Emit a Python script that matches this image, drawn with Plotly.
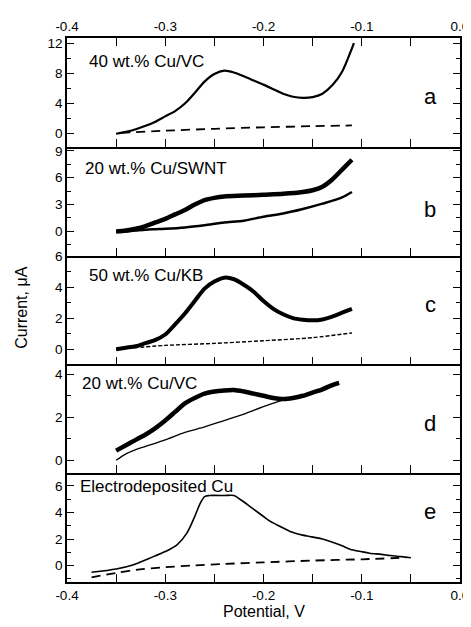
import plotly.graph_objects as go
from plotly.subplots import make_subplots

# ---- data ----
a_x = [-0.35, -0.34, -0.33, -0.32, -0.31, -0.30, -0.29, -0.28, -0.27, -0.26, -0.25, -0.24, -0.23,
       -0.22, -0.21, -0.20, -0.19, -0.18, -0.17, -0.16, -0.15, -0.14, -0.13, -0.12, -0.11, -0.108]
a_y = [0.0, 0.25, 0.6, 1.05, 1.6, 2.3, 3.0, 4.0, 5.4, 6.9, 7.9, 8.35, 8.1,
       7.6, 7.05, 6.5, 5.9, 5.3, 4.9, 4.75, 4.85, 5.3, 6.4, 8.2, 11.3, 12.0]
a_dx = [-0.345, -0.30, -0.25, -0.20, -0.15, -0.11]
a_dy = [0.1, 0.4, 0.65, 0.85, 1.0, 1.1]

b_x = [-0.35, -0.34, -0.33, -0.32, -0.31, -0.30, -0.29, -0.28, -0.27, -0.26, -0.25, -0.24,
       -0.22, -0.20, -0.18, -0.16, -0.15, -0.14, -0.13, -0.12, -0.11]
b_y = [0.0, 0.1, 0.3, 0.6, 1.0, 1.4, 1.9, 2.4, 3.0, 3.5, 3.75, 3.9,
       4.0, 4.1, 4.2, 4.4, 4.6, 5.0, 5.8, 6.9, 8.0]
b_lx = [-0.35, -0.34, -0.33, -0.32, -0.31, -0.30, -0.28, -0.26, -0.24, -0.22, -0.20, -0.18,
        -0.16, -0.14, -0.12, -0.11]
b_ly = [0.0, 0.0, 0.1, 0.2, 0.25, 0.3, 0.45, 0.7, 1.0, 1.2, 1.65, 2.0,
        2.5, 3.1, 3.8, 4.4]

c_x = [-0.35, -0.34, -0.33, -0.32, -0.31, -0.30, -0.29, -0.28, -0.27, -0.26, -0.25, -0.24, -0.23,
       -0.22, -0.21, -0.20, -0.19, -0.18, -0.17, -0.16, -0.15, -0.14, -0.13, -0.12, -0.11]
c_y = [0.0, 0.1, 0.2, 0.4, 0.6, 0.95, 1.6, 2.3, 3.1, 3.9, 4.35, 4.6, 4.5,
       4.15, 3.7, 3.1, 2.6, 2.25, 2.0, 1.9, 1.86, 1.92, 2.1, 2.35, 2.6]
c_dx = [-0.35, -0.30, -0.25, -0.20, -0.15, -0.11]
c_dy = [0.0, 0.25, 0.38, 0.55, 0.75, 1.05]

d_x = [-0.35, -0.34, -0.33, -0.32, -0.31, -0.30, -0.29, -0.28, -0.27, -0.26, -0.25, -0.24,
       -0.23, -0.22, -0.21, -0.20, -0.19, -0.18, -0.17, -0.16, -0.15, -0.14, -0.13, -0.123]
d_y = [0.45, 0.7, 0.95, 1.2, 1.5, 1.85, 2.25, 2.65, 2.9, 3.1, 3.2, 3.25,
       3.27, 3.2, 3.1, 3.0, 2.9, 2.85, 2.9, 3.0, 3.15, 3.3, 3.5, 3.6]
d_lx = [-0.35, -0.34, -0.33, -0.32, -0.30, -0.28, -0.26, -0.24, -0.22, -0.20, -0.18, -0.16,
        -0.14, -0.125]
d_ly = [0.0, 0.3, 0.5, 0.65, 0.95, 1.3, 1.55, 1.85, 2.15, 2.5, 2.8, 3.0,
        3.3, 3.55]

e_x = [-0.375, -0.35, -0.333, -0.316, -0.30, -0.288, -0.278, -0.27, -0.265, -0.26, -0.255, -0.24,
       -0.23, -0.224, -0.214, -0.20, -0.193, -0.183, -0.173, -0.16, -0.153, -0.14, -0.132, -0.12,
       -0.112, -0.10, -0.092, -0.08, -0.071, -0.06, -0.05]
e_y = [-0.5, -0.25, 0.05, 0.56, 1.06, 1.57, 2.45, 3.7, 4.6, 5.2, 5.28, 5.28,
       5.28, 5.0, 4.47, 3.7, 3.33, 2.95, 2.58, 2.3, 2.2, 2.0, 1.82, 1.5,
       1.24, 1.05, 0.94, 0.85, 0.76, 0.68, 0.6]
e_dx = [-0.375, -0.35, -0.33, -0.30, -0.27, -0.24, -0.20, -0.15, -0.10, -0.055]
e_dy = [-0.88, -0.55, -0.32, -0.12, 0.02, 0.13, 0.25, 0.38, 0.48, 0.6]

panel_labels = ["40 wt.% Cu/VC", "20 wt.% Cu/SWNT", "50 wt.% Cu/KB", "20 wt.% Cu/VC", "Electrodeposited Cu"]
panel_letters = ["a", "b", "c", "d", "e"]
x_tickvals = [-0.4, -0.35, -0.3, -0.25, -0.2, -0.15, -0.1, -0.05, 0.0]
x_ticktext = ["-0.4", "", "-0.3", "", "-0.2", "", "-0.1", "", "0.0"]
y_ranges = [[-1.73, 12.67], [-2.7, 9.45], [-0.97, 6.02], [-0.6, 4.46], [-1.23, 6.96]]
y_dticks = [4, 3, 2, 2, 2]

FONT = "Liberation Sans, Arial, sans-serif"
TICKFONT = dict(family=FONT, size=13.5, color="black")

fig = make_subplots(rows=5, cols=1, vertical_spacing=0)

def add(row, x, y, width, dash="solid", shape="spline"):
    fig.add_trace(go.Scatter(x=x, y=y, mode="lines",
                             line=dict(color="black", width=width, dash=dash, shape=shape, smoothing=0.8),
                             showlegend=False, hoverinfo="skip"), row=row, col=1)

add(1, a_x, a_y, 2.2)
add(1, a_dx, a_dy, 1.8, dash="9px,6px")
add(2, b_x, b_y, 4.5)
add(2, b_lx, b_ly, 2.5)
add(3, c_x, c_y, 4.0)
add(3, c_dx, c_dy, 1.4, dash="4px,2px")
add(4, d_x, d_y, 4.5)
add(4, d_lx, d_ly, 1.3)
add(5, e_x, e_y, 1.6)
add(5, e_dx, e_dy, 1.8, dash="9px,6px")

domains = [[0.8, 1.0], [0.6, 0.8], [0.4, 0.6], [0.2, 0.4], [0.0, 0.2]]
for i in range(5):
    r = i + 1
    xa = dict(range=[-0.4, 0.0], tickmode="array", tickvals=x_tickvals, ticktext=x_ticktext,
              ticks="inside", ticklen=8, tickwidth=1.3, tickcolor="black",
              showline=True, linecolor="black", linewidth=1.5, showgrid=False, zeroline=False,
              automargin=False, tickfont=TICKFONT)
    if i == 0:
        xa.update(side="top", mirror="ticks", showticklabels=True)
    elif i == 4:
        xa.update(side="bottom", mirror=False, showticklabels=True)
    else:
        xa.update(side="bottom", mirror=False, showticklabels=False)
    fig.update_xaxes(row=r, col=1, **xa)
    fig.update_yaxes(row=r, col=1, range=y_ranges[i], dtick=y_dticks[i], tick0=0,
                     ticks="inside", ticklen=7, tickwidth=1.3, tickcolor="black",
                     minor=dict(ticks="inside", ticklen=4, dtick=y_dticks[i] / 2, tick0=0,
                                tickcolor="black", tickwidth=1.3),
                     showline=True, linecolor="black", linewidth=1.5, mirror="ticks",
                     showgrid=False, zeroline=False, domain=domains[i], automargin=False,
                     tickfont=TICKFONT)

label_pos = [(0.051, 0.78), (0.040, 0.80), (0.051, 0.82), (0.032, 0.82), (0.029, 0.877)]
letter_pos = [0.466, 0.42, 0.546, 0.46, 0.65]
for i in range(5):
    yref = "y domain" if i == 0 else f"y{i+1} domain"
    fig.add_annotation(x=label_pos[i][0], xref="paper", y=label_pos[i][1], yref=yref,
                       text=panel_labels[i], showarrow=False, xanchor="left", yanchor="middle",
                       font=dict(family=FONT, size=17, color="black"))
    fig.add_annotation(x=0.924, xref="paper", y=letter_pos[i], yref=yref,
                       text=panel_letters[i], showarrow=False, xanchor="center", yanchor="middle",
                       font=dict(family=FONT, size=22, color="black"))

fig.add_annotation(x=-0.1145, xref="paper", y=0.504, yref="paper", text="Current, μA",
                   textangle=-90, showarrow=False, xanchor="center", yanchor="middle",
                   font=dict(family=FONT, size=16, color="black"))
fig.add_annotation(x=0.5, xref="paper", y=-0.055, yref="paper", text="Potential, V",
                   showarrow=False, xanchor="center", yanchor="middle",
                   font=dict(family=FONT, size=16, color="black"))

fig.update_layout(width=471, height=627, margin=dict(l=59, r=19, t=30, b=53),
                  paper_bgcolor="white", plot_bgcolor="white", showlegend=False)

fig.write_html("out.html")
